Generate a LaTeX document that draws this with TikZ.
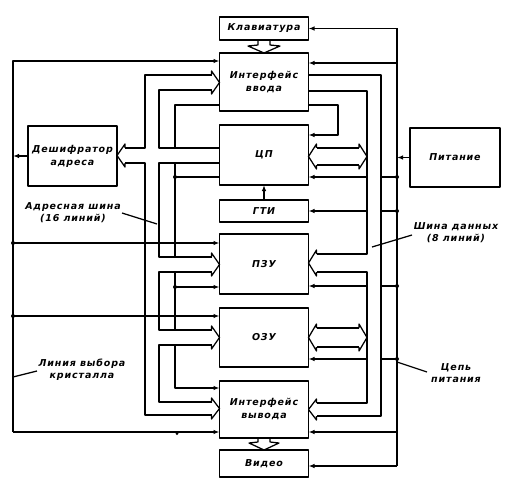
\documentclass[tikz,border=0pt]{standalone}
\usepackage{fontspec}
\setmainfont{DejaVu Sans}
\newfontfamily\lbl[LetterSpace=9]{DejaVu Sans}
\usetikzlibrary{arrows.meta}
\newcommand\hdR[3]{\draw ({#1-8},#2) -- ({#1-8},{#2-4}) -- (#1,{(#2+#3)/2}) -- ({#1-8},{#3+4}) -- ({#1-8},#3);}
\newcommand\hdL[3]{\draw ({#1+8},#2) -- ({#1+8},{#2-4}) -- (#1,{(#2+#3)/2}) -- ({#1+8},{#3+4}) -- ({#1+8},#3);}
\begin{document}
\begin{tikzpicture}[x=1pt,y=-1pt,line width=1.25pt,line join=round,
  box/.style={draw,minimum width=89pt,inner sep=0pt,outer sep=0pt,align=center,
    font=\lbl\itshape\bfseries\fontsize{9.5}{13}\selectfont},
  lab/.style={align=center,inner sep=0pt,font=\lbl\itshape\bfseries\fontsize{9.5}{12}\selectfont},
  arr/.style={-{Latex[length=6pt,width=4.5pt]}},
  dot/.style={circle,fill,inner sep=0pt,minimum size=4pt}]
\useasboundingbox (0,0) rectangle (529,489);
% boxes
\node[box,minimum height=23pt] (kbd) at (264,28.5) {Клавиатура};
\node[box,minimum height=58pt] (inp) at (264,82) {Интерфейс\\ввода};
\node[box,minimum height=60pt] (cpu) at (264,155) {ЦП};
\node[box,minimum height=22pt] (gti) at (264,211) {ГТИ};
\node[box,minimum height=60pt] (rom) at (264,264) {ПЗУ};
\node[box,minimum height=59pt] (ram) at (264,337.5) {ОЗУ};
\node[box,minimum height=57pt] (outp) at (264,409.5) {Интерфейс\\вывода};
\node[box,minimum height=27pt] (video) at (264,463.5) {Видео};
\node[box,minimum height=60pt] (dec) at (72.5,156) {Дешифратор\\адреса};
\node[box,minimum height=59pt,minimum width=90pt] (pwr) at (455,157.5) {Питание};
% keyboard / video bus arrows
\draw (258,40) -- (258,45) -- (248,46) -- (264,53) -- (280,46) -- (270,45) -- (270,40);
\draw (258,438) -- (258,442) -- (249,443) -- (264,450) -- (279,443) -- (270,442) -- (270,438);
% clock
\draw[arr] (gti.north) -- (cpu.south);
% chip select line
\draw[arr] (13,432) -- (13,61) -- (inp.west |- 0,61);
\draw[arr] (13,432) -- (outp.west |- 0,432);
\draw[arr] (13,243) -- (rom.west |- 0,243);
\draw[arr] (13,316) -- (ram.west |- 0,316);
\draw[arr] (dec.west) -- (13,156);
\node[dot] at (13,243) {};
\node[dot] at (13,316) {};
\node[dot,minimum size=3pt] at (177,433.5) {};
% address bus
\draw (211.5,75) -- (145,75) -- (145,148) -- (125,148);
\draw (125,163) -- (145,163) -- (145,415) -- (211.5,415);
\draw (211.5,90) -- (159,90) -- (159,148) -- (cpu.west |- 0,148);
\draw (cpu.west |- 0,163) -- (159,163) -- (159,257) -- (211.5,257);
\draw (211.5,272) -- (159,272) -- (159,330) -- (211.5,330);
\draw (211.5,345) -- (159,345) -- (159,402) -- (211.5,402);
\hdR{219.5}{75}{90}
\hdR{219.5}{257}{272}
\hdR{219.5}{330}{345}
\hdR{219.5}{402}{415}
\hdL{117}{148}{163}
% control line
\draw (inp.west |- 0,105) -- (175,105) -- (175,148);
\draw (175,163) -- (175,257);
\draw (175,272) -- (175,330);
\draw[arr] (175,345) -- (175,388) -- (outp.west |- 0,388);
\draw (175,177) -- (cpu.west |- 0,177);
\draw[arr] (175,287) -- (rom.west |- 0,287);
\node[dot] at (175,177) {};
\node[dot] at (175,287) {};
% data bus
\draw (inp.east |- 0,75) -- (381,75) -- (381,416) -- (316.5,416);
\draw (inp.east |- 0,91) -- (367,91) -- (367,254) -- (316.5,254);
\draw (316.5,272) -- (367,272) -- (367,403) -- (316.5,403);
\hdL{308.5}{254}{272}
\hdL{308.5}{403}{416}
\draw (316.5,148) -- (359,148);
\draw (316.5,165) -- (359,165);
\hdL{308.5}{148}{165}
\hdR{367}{148}{165}
\draw (316.5,328) -- (359,328);
\draw (316.5,347) -- (359,347);
\hdL{308.5}{328}{347}
\hdR{367}{328}{347}
% interrupt loop
\draw[arr] (inp.east |- 0,105) -- (338,105) -- (338,135) -- (cpu.east |- 0,135);
% power
\draw (397,28.5) -- (397,466);
\draw[arr] (397,28.5) -- (kbd.east);
\draw[arr] (397,63) -- (inp.east |- 0,63);
\draw (397,177) -- (381,177);
\draw[arr] (367,177) -- (cpu.east |- 0,177);
\draw (397,211) -- (381,211);
\draw[arr] (367,211) -- (gti.east);
\draw (397,286) -- (381,286);
\draw[arr] (367,286) -- (rom.east |- 0,286);
\draw (397,359) -- (381,359);
\draw[arr] (367,359) -- (ram.east |- 0,359);
\draw[arr] (397,432) -- (outp.east |- 0,432);
\draw[arr] (397,466) -- (video.east |- 0,466);
\draw[arr] (pwr.west) -- (397,157.5);
\node[dot] at (397,177) {};
\node[dot] at (397,211) {};
\node[dot] at (397,286) {};
\node[dot] at (397,359) {};
% labels
\node[lab] (labA) at (73,213) {Адресная шина\\(16 линий)};
\draw (122,213) -- (157,224);
\node[lab] (labD) at (456,233) {Шина данных\\(8 линий)};
\draw (412,235) -- (372,247);
\node[lab] (labC) at (82,370) {Линия выбора\\кристалла};
\draw (13,377) -- (37,371);
\node[lab] (labP) at (456,373) {Цепь\\питания};
\draw (397,362) -- (427,372);
\end{tikzpicture}
\end{document}
